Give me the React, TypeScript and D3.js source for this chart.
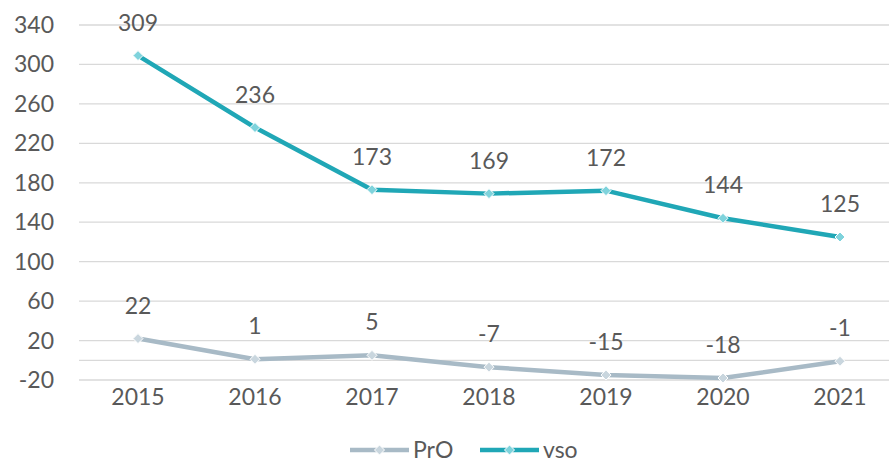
import React from "react";
import * as d3 from "d3";

const years = ["2015", "2016", "2017", "2018", "2019", "2020", "2021"];
const proValues = [22, 1, 5, -7, -15, -18, -1];
const vsoValues = [309, 236, 173, 169, 172, 144, 125];
const yTicks = [-20, 20, 60, 100, 140, 180, 220, 260, 300, 340];

const W = 889;
const H = 464;
const FONT = "Lato, 'Open Sans', sans-serif";
const TEXT = "#595959";

export default function App() {
  const x = d3.scalePoint<string>().domain(years).range([138, 840]);
  const y = d3.scaleLinear().domain([-20, 340]).range([380, 25]);
  const line = d3
    .line<number>()
    .x((_, i) => x(years[i]) as number)
    .y((d) => y(d));

  const series = [
    { name: "PrO", values: proValues, color: "#a8bac6", marker: "#c9d6de" },
    { name: "vso", values: vsoValues, color: "#20a7b6", marker: "#7fd3dc" },
  ];

  const diamond = (cx: number, cy: number, r: number) =>
    `M${cx},${cy - r}L${cx + r},${cy}L${cx},${cy + r}L${cx - r},${cy}Z`;

  return (
    <svg width={W} height={H} style={{ position: "absolute", left: 0, top: 0, background: "#fff" }}>
      <rect width={W} height={H} fill="#fff" />
      {[...yTicks, 0].map((t) => (
        <line key={"g" + t} x1={79} x2={W} y1={y(t)} y2={y(t)} stroke="#d9d9d9" strokeWidth={1.3} />
      ))}
      {yTicks.map((t) => (
        <text key={"t" + t} x={54} y={y(t)} dy="0.35em" textAnchor="end" fontFamily={FONT} fontSize={23} fill={TEXT}>
          {t}
        </text>
      ))}
      {years.map((yr) => (
        <text key={yr} x={x(yr)} y={397} dy="0.35em" textAnchor="middle" fontFamily={FONT} fontSize={23} fill={TEXT}>
          {yr}
        </text>
      ))}
      {series.map((s) => (
        <g key={s.name}>
          <path d={line(s.values) || ""} fill="none" stroke={s.color} strokeWidth={4.5} strokeLinejoin="round" />
          {s.values.map((v, i) => (
            <path key={i} d={diamond(x(years[i]) as number, y(v), 5)} fill={s.marker} stroke="#ffffff" strokeWidth={1} />
          ))}
          {s.values.map((v, i) => (
            <text key={"l" + i} x={x(years[i])} y={y(v) - 33} dy="0.35em" textAnchor="middle" fontFamily={FONT} fontSize={23} fill={TEXT}>
              {v}
            </text>
          ))}
        </g>
      ))}
      {/* legend */}
      {[
        { s: series[0], x0: 350, tx: 413 },
        { s: series[1], x0: 480, tx: 543 },
      ].map(({ s, x0, tx }) => (
        <g key={"lg" + s.name}>
          <line x1={x0} x2={x0 + 59} y1={450} y2={450} stroke={s.color} strokeWidth={4.5} />
          <path d={diamond(x0 + 29.5, 450, 5)} fill={s.marker} stroke="#fff" strokeWidth={1} />
          <text x={tx} y={450} dy="0.35em" fontFamily={FONT} fontSize={23} fill={TEXT}>
            {s.name}
          </text>
        </g>
      ))}
    </svg>
  );
}
